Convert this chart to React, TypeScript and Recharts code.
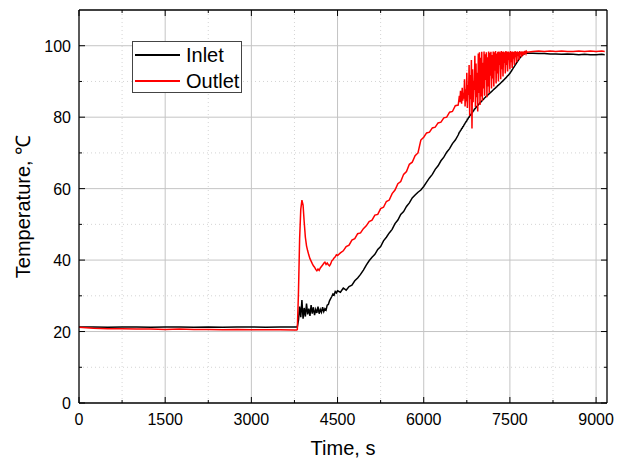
import React from "react";
import { CartesianGrid, Legend, Line, LineChart, XAxis, YAxis } from "recharts";

// time, s
const times = [
  0, 250, 500, 750, 1000, 1250, 1500, 1750, 2000, 2250, 2500, 2750, 3000, 3250, 3500, 3750, 3790,
  3800, 3820, 3840, 3860, 3880, 3900, 3920, 3940, 3960, 3980, 4000, 4020, 4040, 4060, 4080, 4100, 4120, 4140,
  4160, 4180, 4200, 4220, 4240, 4260, 4280, 4300, 4320, 4340, 4360, 4380, 4400, 4420, 4440, 4460, 4480, 4500,
  4550, 4600, 4650, 4700, 4750, 4800, 4850, 4900, 4950, 5000, 5050, 5100, 5150, 5200, 5250, 5300, 5350, 5400,
  5450, 5500, 5550, 5600, 5650, 5700, 5750, 5800, 5850, 5900, 5950, 6000, 6050, 6100, 6150, 6200, 6250, 6300,
  6350, 6400, 6450, 6500, 6550, 6600,
  6610, 6620, 6630, 6640, 6650, 6660, 6670, 6680, 6690, 6700,
  6710, 6720, 6730, 6740, 6750, 6760, 6770, 6780, 6790, 6800,
  6810, 6820, 6830, 6840, 6850, 6860, 6870, 6880, 6890, 6900,
  6910, 6920, 6930, 6940, 6950, 6960, 6970, 6980, 6990, 7000,
  7010, 7020, 7030, 7040, 7050, 7060, 7070, 7080, 7090, 7100,
  7110, 7120, 7130, 7140, 7150, 7160, 7170, 7180, 7190, 7200,
  7210, 7220, 7230, 7240, 7250, 7260, 7270, 7280, 7290, 7300,
  7310, 7320, 7330, 7340, 7350, 7360, 7370, 7380, 7390, 7400,
  7410, 7420, 7430, 7440, 7450, 7460, 7470, 7480, 7490, 7500,
  7510, 7520, 7530, 7540, 7550, 7560, 7570, 7580, 7590, 7600,
  7610, 7620, 7630, 7640, 7650, 7660, 7670, 7680, 7690, 7700,
  7710, 7720, 7730, 7740, 7750, 7760, 7770, 7780, 7790, 7800,
  7900, 8000, 8100, 8200, 8300, 8400, 8500, 8600, 8700, 8800, 8900, 9000, 9100, 9150,
];

// inlet temperature, °C
const inlet = [
  21.3, 21.3, 21.2, 21.3, 21.3, 21.2, 21.3, 21.3, 21.2, 21.3, 21.2, 21.3, 21.3, 21.2, 21.3, 21.3, 21.3,
  21.3, 23.2, 27.0, 24.0, 28.8, 23.6, 26.6, 24.2, 27.8, 24.8, 26.4, 24.4, 27.4, 25.0, 26.8, 24.6, 26.2, 25.2,
  27.0, 25.0, 26.2, 25.4, 26.8, 25.6, 26.4, 26.0, 27.4, 27.6, 28.6, 29.2, 29.8, 30.5, 30.2, 31.2, 30.8, 31.4,
  31.0, 32.2, 31.6, 32.6, 33.0, 34.2, 35.0, 36.0, 37.2, 38.6, 39.8, 40.8, 41.6, 43.0, 43.8, 45.4, 46.4, 47.6,
  48.6, 50.2, 51.2, 52.8, 53.6, 55.0, 56.0, 57.4, 58.2, 59.0, 59.6, 60.6, 61.8, 63.0, 64.0, 65.4, 66.4, 67.8,
  68.8, 70.2, 71.2, 72.6, 73.6, 75.0,
  75.4, 75.8, 75.9, 76.3, 76.4, 76.8, 76.9, 77.3, 77.4, 77.8,
  78.0, 78.3, 78.6, 78.8, 79.0, 79.4, 79.5, 79.9, 80.0, 80.4,
  80.5, 80.8, 80.9, 81.3, 81.4, 81.7, 81.8, 82.2, 82.3, 82.5,
  82.7, 82.9, 83.1, 83.3, 83.4, 83.7, 83.8, 84.1, 84.1, 84.4,
  84.5, 84.7, 84.9, 85.0, 85.2, 85.4, 85.5, 85.7, 85.8, 86.0,
  86.1, 86.3, 86.4, 86.6, 86.7, 86.9, 87.0, 87.2, 87.3, 87.5,
  87.6, 87.8, 87.9, 88.1, 88.2, 88.4, 88.5, 88.7, 88.8, 89.0,
  89.1, 89.3, 89.4, 89.6, 89.7, 89.9, 90.0, 90.2, 90.4, 90.5,
  90.7, 90.9, 91.0, 91.2, 91.4, 91.6, 91.7, 91.9, 92.1, 92.3,
  92.5, 92.8, 93.0, 93.3, 93.5, 93.8, 94.0, 94.3, 94.5, 94.8,
  95.0, 95.3, 95.5, 95.8, 96.0, 96.3, 96.5, 96.7, 96.9, 97.1,
  97.2, 97.4, 97.5, 97.6, 97.7, 97.8, 97.8, 97.9, 97.9, 97.9,
  97.9, 97.8, 97.8, 97.7, 97.7, 97.6, 97.7, 97.6, 97.5, 97.6, 97.5, 97.5, 97.6, 97.5,
];

// outlet temperature, °C
const outlet = [
  21.2, 20.9, 20.8, 20.8, 20.7, 20.7, 20.6, 20.7, 20.6, 20.6, 20.5, 20.6, 20.5, 20.5, 20.5, 20.4, 20.4,
  20.6, 31.0, 46.0, 54.2, 56.8, 55.4, 50.6, 46.4, 44.0, 42.6, 41.4, 40.4, 39.7, 39.0, 38.4, 38.0, 37.4, 37.0,
  37.5, 37.1, 37.8, 38.2, 38.6, 39.1, 39.4, 38.8, 39.2, 38.7, 38.4, 38.9, 39.8, 40.1, 40.6, 40.9, 41.5, 41.3,
  42.0, 42.6, 43.8, 44.2, 45.6, 46.0, 47.4, 47.6, 48.8, 49.6, 50.8, 51.2, 52.6, 52.8, 54.4, 54.8, 56.4, 56.8,
  58.6, 59.6, 61.4, 62.0, 64.0, 64.8, 66.8, 67.4, 69.2, 70.0, 73.6, 74.4, 75.6, 75.8, 77.0, 77.2, 78.4, 78.6,
  79.8, 80.0, 81.4, 81.6, 83.2, 83.4,
  84.6, 86.0, 84.2, 87.4, 85.0, 83.8, 88.2, 84.6, 86.8, 85.2,
  90.6, 83.0, 87.8, 84.4, 92.4, 82.6, 89.0, 86.2, 94.6, 80.4,
  91.8, 85.0, 96.0, 76.8, 93.4, 84.2, 90.2, 87.6, 97.2, 82.8,
  95.0, 85.6, 92.4, 81.6, 97.8, 86.8, 98.2, 83.4, 96.6, 85.8,
  98.3, 84.6, 95.2, 88.0, 98.4, 86.0, 97.6, 90.4, 98.2, 85.6,
  96.8, 88.6, 98.4, 86.8, 98.0, 91.6, 98.3, 88.0, 97.4, 90.8,
  98.4, 88.6, 98.2, 93.0, 98.5, 89.4, 97.8, 92.2, 98.3, 90.0,
  98.4, 94.6, 98.2, 90.6, 98.5, 93.4, 98.3, 91.4, 98.4, 95.2,
  98.2, 92.2, 98.5, 94.6, 98.3, 92.8, 98.4, 96.0, 98.2, 93.4,
  98.5, 95.4, 98.3, 93.8, 98.4, 96.4, 98.2, 94.6, 98.5, 96.8,
  98.3, 95.4, 98.4, 97.2, 98.2, 96.0, 98.5, 97.6, 98.3, 96.8,
  98.4, 97.8, 98.3, 97.4, 98.5, 98.0, 98.3, 97.8, 98.4, 98.2,
  98.4, 98.5, 98.4, 98.5, 98.4, 98.5, 98.4, 98.4, 98.5, 98.4, 98.5, 98.4, 98.5, 98.4,
];

const xMajor = [0, 1500, 3000, 4500, 6000, 7500, 9000];
const xMinor = [750, 2250, 3750, 5250, 6750, 8250];
const yMajor = [0, 20, 40, 60, 80, 100];
const yMinor = [10, 30, 50, 70, 90];

const xTicks = [...xMajor, ...xMinor].sort((a, b) => a - b);
const yTicks = [...yMajor, ...yMinor].sort((a, b) => a - b);

const data = times.map((t, i) => ({ t, inlet: inlet[i], outlet: outlet[i] }));

const W = 624;
const H = 461;
// plot edges
const plotLeft = 79;
const plotTop = 10;
const plotRight = 607;
const plotBottom = 403;
const bottomH = 30;
const leftW = 60;
const margin = { top: plotTop - 1, right: W - plotRight - 1, bottom: H - plotBottom - bottomH, left: plotLeft - leftW };
const font = '"Liberation Sans", Arial, sans-serif';
const axisStroke = { stroke: "#000", strokeWidth: 1.3 };

function BottomTick({ x, payload }: any) {
  const major = xMajor.includes(payload.value);
  return (
    <g>
      <line x1={x} x2={x} y1={plotBottom} y2={plotBottom - (major ? 6 : 3)} stroke="#000" />
      {major && (
        <text x={x} y={plotBottom + 22} textAnchor="middle" fontSize={16} fontFamily={font} fill="#000">
          {payload.value}
        </text>
      )}
    </g>
  );
}

function TopTick({ x, payload }: any) {
  const major = xMajor.includes(payload.value);
  return <line x1={x} x2={x} y1={plotTop} y2={plotTop + (major ? 6 : 3)} stroke="#000" />;
}

function LeftTick({ y, payload }: any) {
  const major = yMajor.includes(payload.value);
  return (
    <g>
      <line x1={plotLeft} x2={plotLeft + (major ? 6 : 3)} y1={y} y2={y} stroke="#000" />
      {major && (
        <text x={plotLeft - 8} y={y + 6} textAnchor="end" fontSize={16} fontFamily={font} fill="#000">
          {payload.value}
        </text>
      )}
    </g>
  );
}

function RightTick({ y, payload }: any) {
  const major = yMajor.includes(payload.value);
  return <line x1={plotRight} x2={plotRight - (major ? 6 : 3)} y1={y} y2={y} stroke="#000" />;
}

function LegendBox({ payload }: any) {
  return (
    <div
      style={{
        boxSizing: "border-box",
        width: 110,
        height: 52,
        border: "1px solid #444",
        background: "#fff",
        position: "relative",
        fontFamily: font,
        fontSize: 20,
        color: "#000",
      }}
    >
      {(payload || []).map((item: any, i: number) => (
        <div
          key={item.value}
          style={{ position: "absolute", left: 2, top: 1 + i * 26, height: 24, display: "flex", alignItems: "center" }}
        >
          <span style={{ display: "inline-block", width: 45, height: 2, background: item.color }} />
          <span style={{ marginLeft: 6, lineHeight: "24px", whiteSpace: "nowrap" }}>{item.value}</span>
        </div>
      ))}
    </div>
  );
}

export default function App() {
  const midY = (plotTop + plotBottom) / 2;
  return (
    <div style={{ position: "absolute", left: 0, top: 0, width: W, height: H, background: "#fff" }}>
      <LineChart width={W} height={H} data={data} margin={margin}>
        <CartesianGrid verticalValues={xMinor} horizontalValues={yMinor} stroke="#d4d4d4" strokeDasharray="1 3" />
        <CartesianGrid verticalValues={xMajor.slice(1)} horizontalValues={yMajor.slice(1)} stroke="#c4c4c4" />
        <XAxis
          dataKey="t"
          type="number"
          domain={[0, 9190]}
          ticks={xTicks}
          interval={0}
          height={bottomH}
          axisLine={axisStroke}
          tickLine={false}
          tick={<BottomTick />}
          allowDataOverflow
        />
        <XAxis
          xAxisId="top"
          orientation="top"
          dataKey="t"
          type="number"
          domain={[0, 9190]}
          ticks={xTicks}
          interval={0}
          height={1}
          axisLine={axisStroke}
          tickLine={false}
          tick={<TopTick />}
          allowDataOverflow
        />
        <YAxis
          type="number"
          domain={[0, 110]}
          ticks={yTicks}
          interval={0}
          width={leftW}
          axisLine={axisStroke}
          tickLine={false}
          tick={<LeftTick />}
          allowDataOverflow
        />
        <YAxis
          yAxisId="right"
          orientation="right"
          type="number"
          domain={[0, 110]}
          ticks={yTicks}
          interval={0}
          width={1}
          axisLine={axisStroke}
          tickLine={false}
          tick={<RightTick />}
          allowDataOverflow
        />
        <Legend
          layout="horizontal"
          verticalAlign="middle"
          align="center"
          wrapperStyle={{ left: 132, top: 41, width: 110, height: 52 }}
          content={<LegendBox />}
        />
        <Line dataKey="inlet" name="Inlet" stroke="#000" strokeWidth={1.5} dot={false} isAnimationActive={false} />
        <Line dataKey="outlet" name="Outlet" stroke="#ff0000" strokeWidth={1.5} dot={false} isAnimationActive={false} />
      </LineChart>
      <svg width={W} height={H} style={{ position: "absolute", left: 0, top: 0, pointerEvents: "none" }}>
        <text x={(plotLeft + plotRight) / 2} y={455} textAnchor="middle" fontSize={20} fontFamily={font} fill="#000">
          Time, s
        </text>
        <text
          x={30}
          y={midY}
          transform={`rotate(-90, 30, ${midY})`}
          textAnchor="middle"
          fontSize={20}
          fontFamily={font}
          fill="#000"
        >
          Temperature, ℃
        </text>
      </svg>
    </div>
  );
}
